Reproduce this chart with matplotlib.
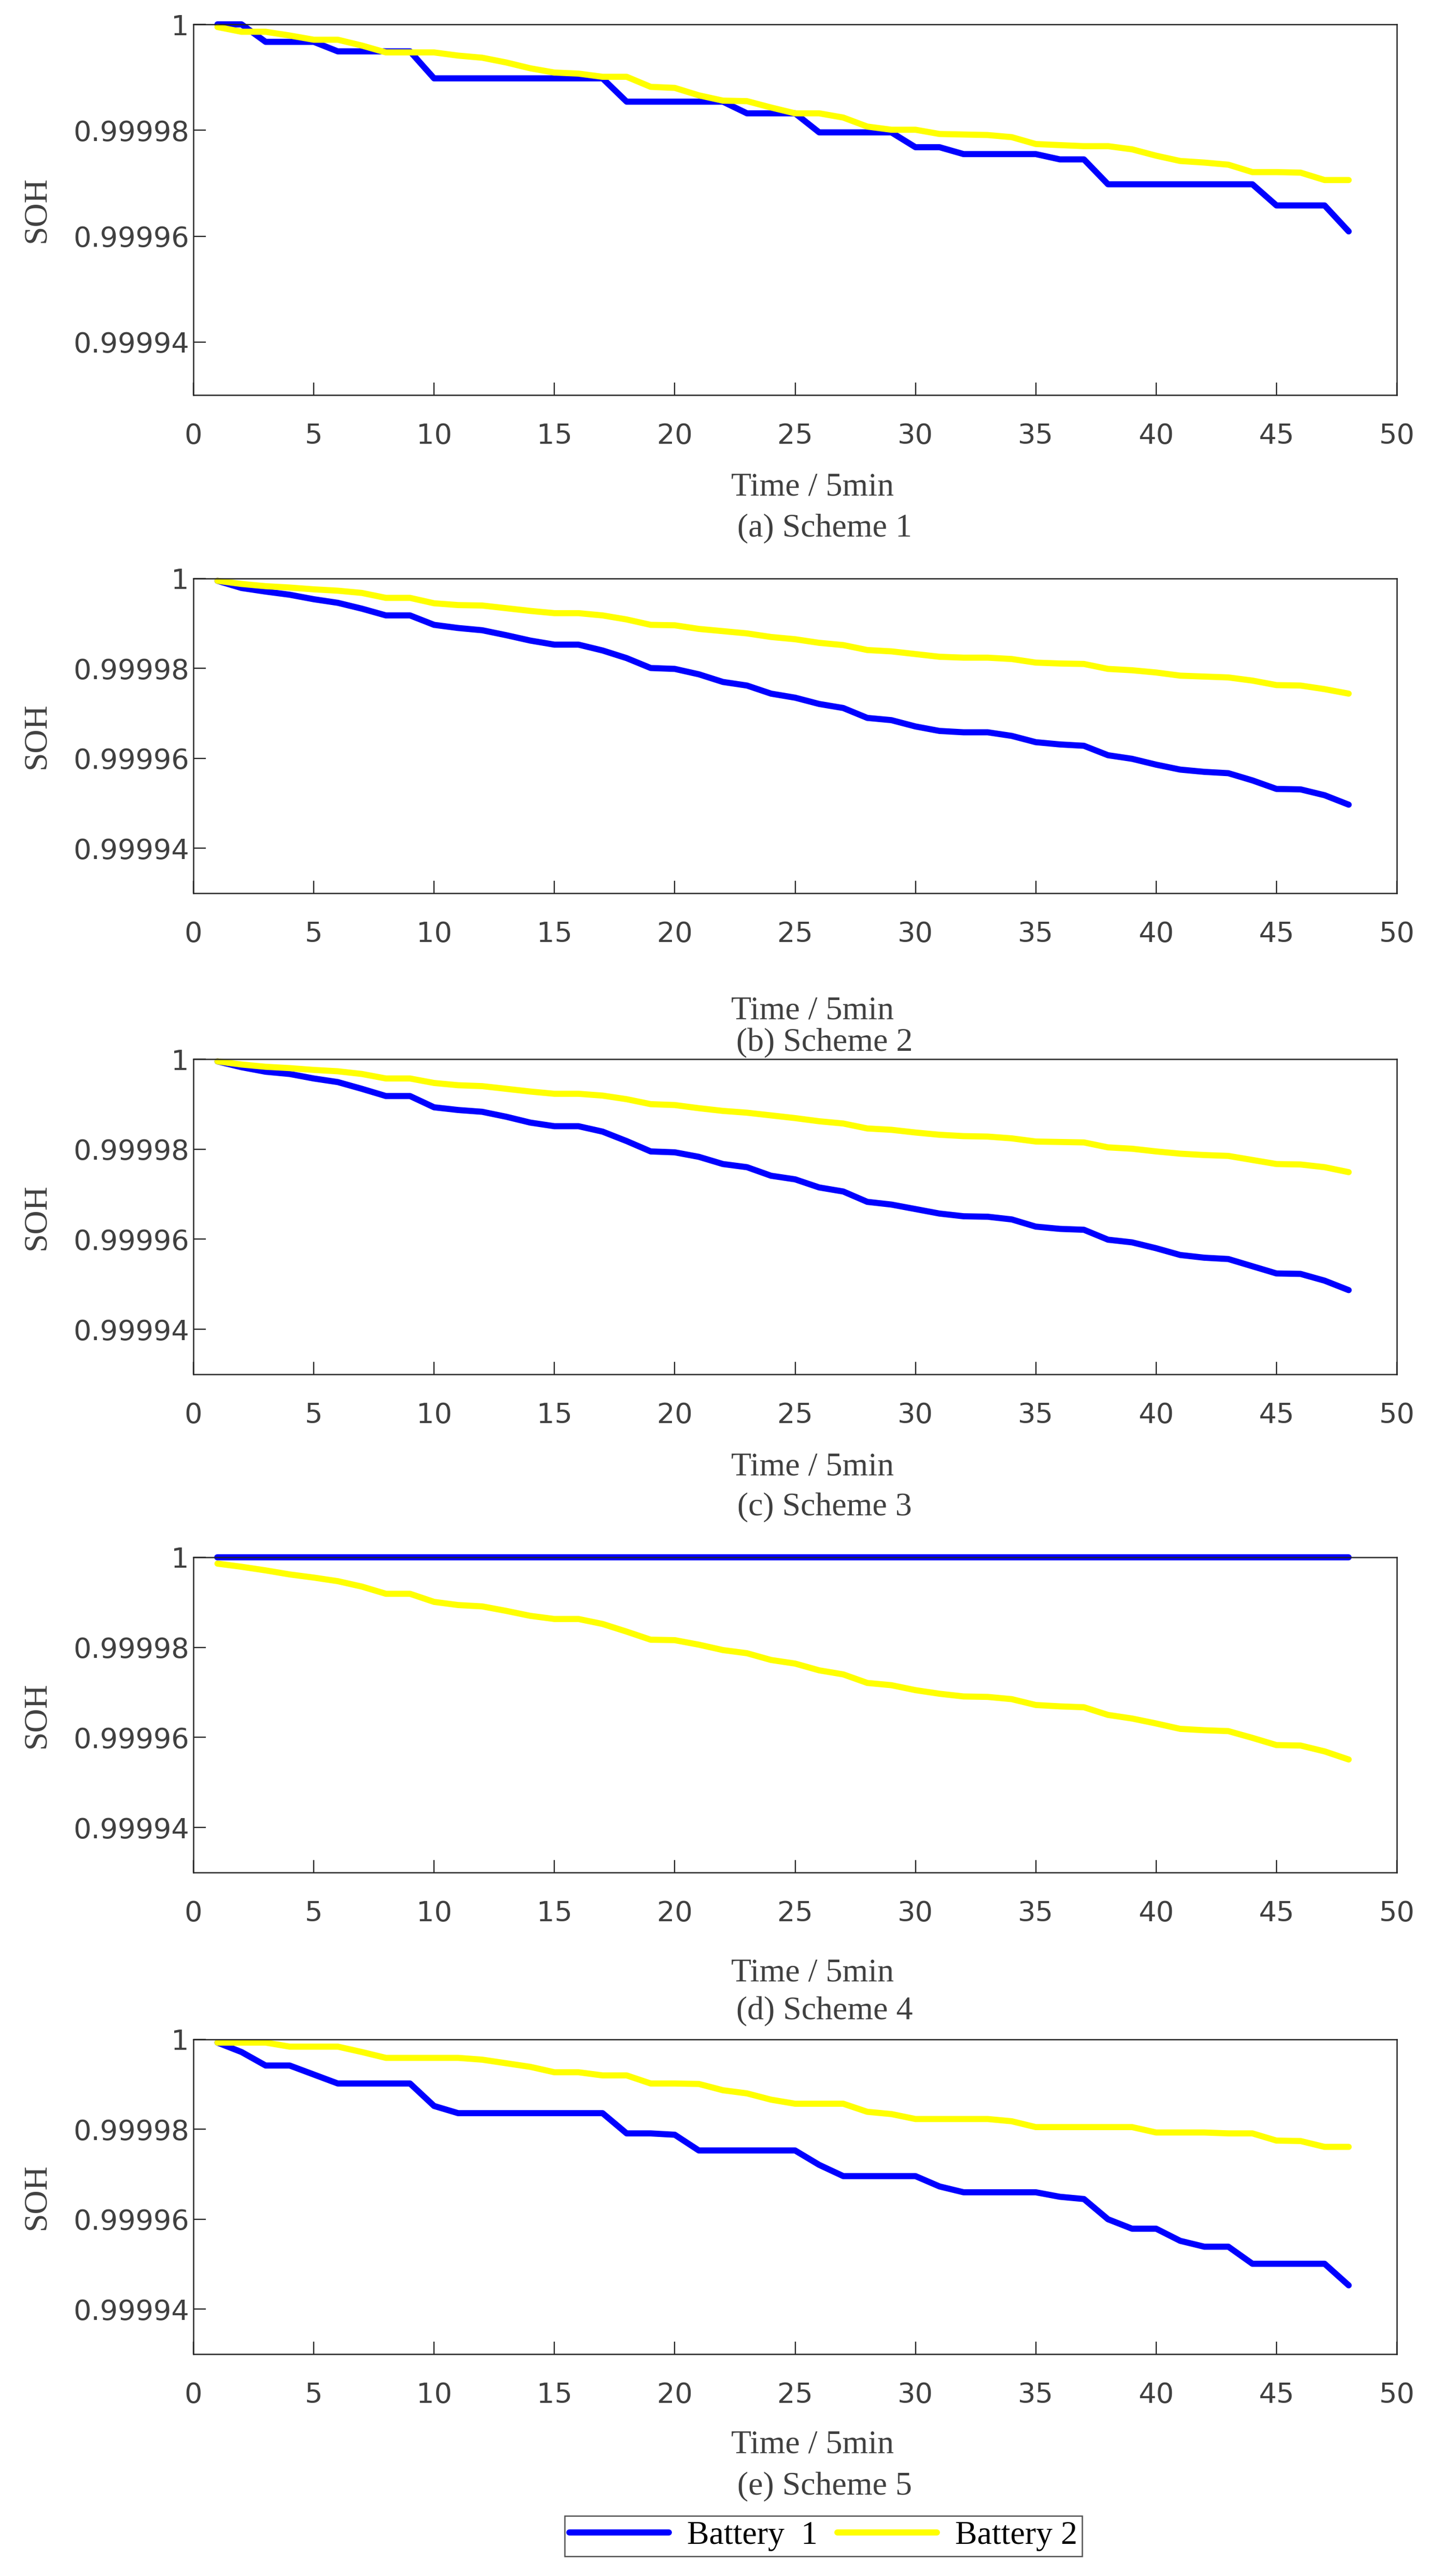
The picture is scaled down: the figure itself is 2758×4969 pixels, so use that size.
import numpy as np
import matplotlib
matplotlib.use("Agg")
import matplotlib.pyplot as plt

# time steps (x) and SOH loss of each battery, in units of 1e-5
time_steps = np.arange(1, 49)

# (a) Scheme 1
loss_b1_s1 = [0.00, 0.00, 0.33, 0.33, 0.33, 0.51, 0.51, 0.51, 0.51, 1.02,
              1.02, 1.02, 1.02, 1.02, 1.02, 1.02, 1.02, 1.46, 1.46, 1.46,
              1.46, 1.46, 1.68, 1.68, 1.68, 2.04, 2.04, 2.04, 2.04, 2.32,
              2.32, 2.45, 2.45, 2.45, 2.45, 2.55, 2.55, 3.02, 3.02, 3.02,
              3.02, 3.02, 3.02, 3.02, 3.42, 3.42, 3.42, 3.91]
loss_b2_s1 = [0.05, 0.14, 0.14, 0.21, 0.29, 0.29, 0.40, 0.53, 0.53, 0.53,
              0.59, 0.63, 0.72, 0.83, 0.91, 0.93, 0.99, 0.99, 1.18, 1.20,
              1.34, 1.44, 1.45, 1.57, 1.68, 1.68, 1.76, 1.93, 1.99, 1.99,
              2.07, 2.08, 2.09, 2.13, 2.26, 2.28, 2.30, 2.30, 2.36, 2.48,
              2.58, 2.61, 2.65, 2.79, 2.79, 2.80, 2.94, 2.94]

# (b) Scheme 2
loss_b1_s2 = [0.05, 0.21, 0.29, 0.36, 0.46, 0.54, 0.67, 0.82, 0.82, 1.03,
              1.10, 1.15, 1.26, 1.38, 1.47, 1.47, 1.60, 1.77, 1.99, 2.01,
              2.13, 2.30, 2.38, 2.56, 2.65, 2.79, 2.88, 3.10, 3.15, 3.29,
              3.39, 3.42, 3.42, 3.50, 3.64, 3.69, 3.72, 3.93, 4.01, 4.14,
              4.25, 4.30, 4.33, 4.49, 4.68, 4.69, 4.82, 5.03]
loss_b2_s2 = [0.05, 0.12, 0.17, 0.20, 0.24, 0.27, 0.32, 0.43, 0.43, 0.55,
              0.59, 0.60, 0.66, 0.72, 0.77, 0.77, 0.82, 0.91, 1.03, 1.04,
              1.12, 1.17, 1.22, 1.30, 1.35, 1.43, 1.48, 1.59, 1.62, 1.68,
              1.74, 1.76, 1.76, 1.79, 1.87, 1.89, 1.90, 2.01, 2.04, 2.09,
              2.16, 2.18, 2.20, 2.27, 2.37, 2.38, 2.46, 2.56]

# (c) Scheme 3
loss_b1_s3 = [0.05, 0.18, 0.28, 0.33, 0.43, 0.51, 0.66, 0.82, 0.82, 1.07,
              1.13, 1.17, 1.28, 1.41, 1.49, 1.49, 1.61, 1.82, 2.05, 2.07,
              2.17, 2.33, 2.40, 2.59, 2.67, 2.85, 2.94, 3.17, 3.23, 3.33,
              3.43, 3.49, 3.50, 3.56, 3.72, 3.77, 3.79, 4.01, 4.07, 4.20,
              4.35, 4.41, 4.44, 4.60, 4.76, 4.77, 4.92, 5.13]
loss_b2_s3 = [0.05, 0.12, 0.17, 0.20, 0.24, 0.27, 0.33, 0.43, 0.43, 0.53,
              0.58, 0.60, 0.66, 0.72, 0.77, 0.77, 0.81, 0.89, 1.00, 1.02,
              1.09, 1.15, 1.19, 1.25, 1.31, 1.38, 1.43, 1.54, 1.57, 1.63,
              1.68, 1.71, 1.72, 1.76, 1.83, 1.84, 1.85, 1.96, 1.99, 2.05,
              2.10, 2.13, 2.15, 2.24, 2.33, 2.34, 2.40, 2.51]

# (d) Scheme 4
loss_b1_s4 = [0.0, 0.0, 0.0, 0.0, 0.0, 0.0, 0.0, 0.0, 0.0, 0.0,
              0.0, 0.0, 0.0, 0.0, 0.0, 0.0, 0.0, 0.0, 0.0, 0.0,
              0.0, 0.0, 0.0, 0.0, 0.0, 0.0, 0.0, 0.0, 0.0, 0.0,
              0.0, 0.0, 0.0, 0.0, 0.0, 0.0, 0.0, 0.0, 0.0, 0.0,
              0.0, 0.0, 0.0, 0.0, 0.0, 0.0, 0.0, 0.0]
loss_b2_s4 = [0.14, 0.21, 0.29, 0.38, 0.45, 0.53, 0.65, 0.81, 0.81, 0.99,
              1.06, 1.09, 1.19, 1.30, 1.37, 1.37, 1.48, 1.65, 1.83, 1.84,
              1.94, 2.06, 2.13, 2.28, 2.36, 2.51, 2.60, 2.79, 2.84, 2.95,
              3.03, 3.09, 3.10, 3.15, 3.28, 3.31, 3.33, 3.50, 3.58, 3.69,
              3.81, 3.84, 3.86, 4.01, 4.17, 4.18, 4.31, 4.49]

# (e) Scheme 5
loss_b1_s5 = [0.07, 0.28, 0.58, 0.58, 0.78, 0.98, 0.98, 0.98, 0.98, 1.48,
              1.64, 1.64, 1.64, 1.64, 1.64, 1.64, 1.64, 2.09, 2.09, 2.12,
              2.47, 2.47, 2.47, 2.47, 2.47, 2.79, 3.04, 3.04, 3.04, 3.04,
              3.27, 3.40, 3.40, 3.40, 3.40, 3.50, 3.55, 4.00, 4.21, 4.21,
              4.48, 4.61, 4.61, 4.99, 4.99, 4.99, 4.99, 5.47]
loss_b2_s5 = [0.07, 0.07, 0.07, 0.16, 0.16, 0.16, 0.28, 0.41, 0.41, 0.41,
              0.41, 0.45, 0.53, 0.61, 0.73, 0.73, 0.80, 0.80, 0.98, 0.98,
              0.99, 1.13, 1.20, 1.34, 1.43, 1.43, 1.43, 1.61, 1.66, 1.77,
              1.77, 1.77, 1.77, 1.82, 1.95, 1.95, 1.95, 1.95, 1.95, 2.07,
              2.07, 2.07, 2.09, 2.09, 2.25, 2.26, 2.39, 2.39]

battery1 = [loss_b1_s1, loss_b1_s2, loss_b1_s3, loss_b1_s4, loss_b1_s5]
battery2 = [loss_b2_s1, loss_b2_s2, loss_b2_s3, loss_b2_s4, loss_b2_s5]
captions = ["(a) Scheme 1", "(b) Scheme 2", "(c) Scheme 3", "(d) Scheme 4", "(e) Scheme 5"]
series_names = ["Battery  1", "Battery 2"]

y_ticks = [0.99994, 0.99996, 0.99998, 1.0]
y_tick_labels = ["0.99994", "0.99996", "0.99998", "1"]
x_ticks = [0, 5, 10, 15, 20, 25, 30, 35, 40, 45, 50]

# layout in pixels (figure is 2758 x 4969 at dpi 100)
W, H = 2758, 4969
ax_left, ax_right = 373, 2694
panel_rows = [(47, 762), (1116, 1723), (2043, 2651), (3004, 3612), (3934, 4541)]
xlabel_rows = [941, 1950, 2830, 3807, 4717]
caption_rows = [1019, 2012, 2907, 3880, 4796]

TEXT_GREY = "#404040"
SERIF = "Liberation Serif"

fig = plt.figure(figsize=(W / 100, H / 100), dpi=100)

for i in range(5):
    top, bottom = panel_rows[i]
    ax = fig.add_axes([ax_left / W, 1 - bottom / H,
                       (ax_right - ax_left) / W, (bottom - top) / H])
    soh1 = 1 - np.array(battery1[i]) * 1e-5
    soh2 = 1 - np.array(battery2[i]) * 1e-5
    ax.plot(time_steps, soh1, color="#0000FF", lw=8.5, clip_on=False,
            solid_capstyle="round", solid_joinstyle="round", label=series_names[0])
    ax.plot(time_steps, soh2, color="#FFFF00", lw=8.5, clip_on=False,
            solid_capstyle="round", solid_joinstyle="round", label=series_names[1])

    ax.set_xlim(0, 50)
    ax.set_ylim(0.99993, 1.0)
    ax.set_xticks(x_ticks)
    ax.set_xticklabels([str(v) for v in x_ticks])
    ax.set_yticks(y_ticks)
    ax.set_yticklabels(y_tick_labels)
    ax.tick_params(direction="in", length=17, width=1.7, color="#262626",
                   labelsize=39, labelcolor=TEXT_GREY, top=False, right=False)
    ax.tick_params(axis="x", pad=38)
    ax.tick_params(axis="y", pad=6)
    for lab in ax.get_xticklabels() + ax.get_yticklabels():
        lab.set_fontfamily("DejaVu Sans")
    for sp in ax.spines.values():
        sp.set_linewidth(1.8)
        sp.set_color("#262626")

    ax.set_ylabel("SOH", fontsize=46, family=SERIF, color=TEXT_GREY)
    ax.yaxis.set_label_coords((100 - ax_left) / (ax_right - ax_left), 0.5)

    fig.text(1567 / W, 1 - xlabel_rows[i] / H, "Time / 5min", fontsize=46,
             family=SERIF, color=TEXT_GREY, ha="center", va="center")
    fig.text(1590 / W, 1 - caption_rows[i] / H, captions[i], fontsize=46,
             family=SERIF, color=TEXT_GREY, ha="center", va="center")

    if i == 4:
        handles, labels = ax.get_legend_handles_labels()

leg = fig.legend(handles, labels, loc="center", ncol=2,
                 bbox_to_anchor=(1588 / W, 1 - 4892 / H),
                 prop={"family": SERIF, "size": 46},
                 frameon=True, fancybox=False, edgecolor="#262626",
                 handlelength=3.0, handletextpad=0.55, columnspacing=0.6,
                 borderpad=0.15, borderaxespad=0)
leg.get_frame().set_linewidth(1.8)
for line in leg.get_lines():
    line.set_linewidth(8.5)

fig.savefig("out.png", dpi=100)
